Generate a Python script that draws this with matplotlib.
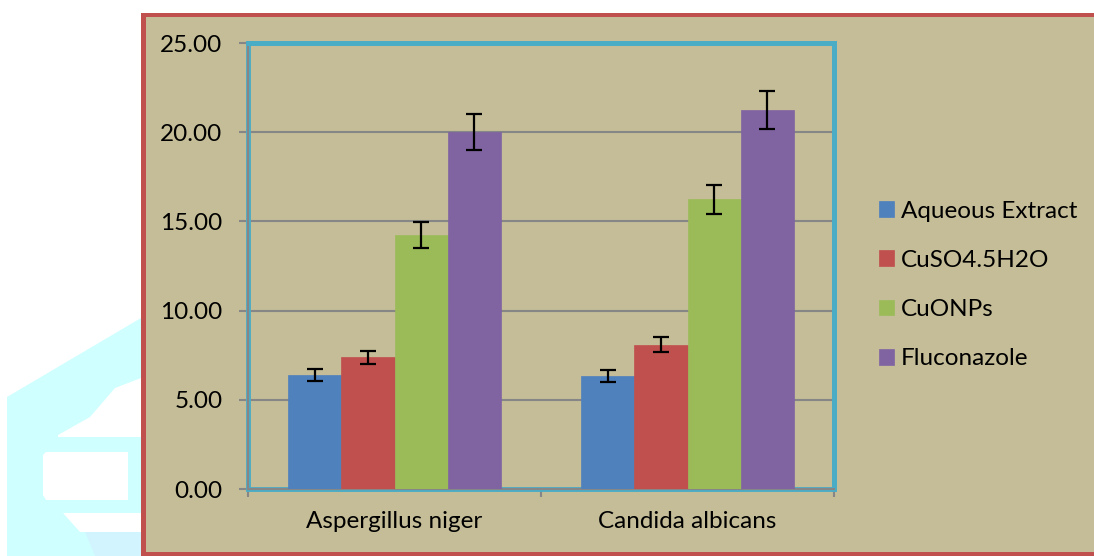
import matplotlib.pyplot as plt
import matplotlib.patches as mpatches
import numpy as np

plt.rcParams['font.family'] = ['Lato', 'DejaVu Sans']

# data
organisms = ['Aspergillus niger', 'Candida albicans']
series = ['Aqueous Extract', 'CuSO4.5H2O', 'CuONPs', 'Fluconazole']
values = {
    'Aqueous Extract': [6.39, 6.33],
    'CuSO4.5H2O': [7.38, 8.09],
    'CuONPs': [14.24, 16.24],
    'Fluconazole': [20.00, 21.23],
}
errors = {
    'Aqueous Extract': [0.34, 0.33],
    'CuSO4.5H2O': [0.38, 0.43],
    'CuONPs': [0.71, 0.81],
    'Fluconazole': [1.00, 1.07],
}
yticks = [0, 5, 10, 15, 20, 25]

colors = ['#4F81BD', '#C0504D', '#9BBB59', '#8064A2']
bg = '#C4BD97'
fs = 17.5
W, H = 1094, 556


def fx(px):
    return px / W


def fy(py):
    return 1 - py / H


def fig_rect(x0, y0, x1, y1, color, z):
    # rectangle given in pixel coords (y down), filled, no outline
    fig.patches.append(mpatches.Rectangle((fx(x0), fy(y1)), fx(x1) - fx(x0), fy(y0) - fy(y1),
                                          transform=fig.transFigure, fc=color, ec='none', zorder=z))


fig = plt.figure(figsize=(W / 100, H / 100), dpi=100)
fig.patch.set_facecolor('white')

# faint watermark on the left side (outside chart)
cyan = '#CFFFFF'
wm = [(7, 556), (7, 397), (141, 318), (141, 556)]
fig.patches.append(mpatches.Polygon([(fx(x), fy(y)) for x, y in wm], closed=True,
                                    transform=fig.transFigure, fc=cyan, ec='none', zorder=0))
holes = [
    [(141, 378), (115, 388), (90, 417), (58, 435), (58, 437), (141, 437)],
    [(43, 455), (46, 452), (128, 452), (128, 500), (46, 500), (43, 495)],
    [(63, 513), (141, 513), (141, 532), (80, 532)],
]
for h in holes:
    fig.patches.append(mpatches.Polygon([(fx(x), fy(y)) for x, y in h], closed=True,
                                        transform=fig.transFigure, fc='white', ec='none', zorder=0))
fig.patches.append(mpatches.Polygon([(fx(x), fy(y)) for x, y in [(95, 556), (141, 556), (141, 532), (85, 532)]],
                                    closed=True, transform=fig.transFigure, fc='#D2F4FF', ec='none', zorder=0))

# chart area with red frame (right edge runs off the picture)
fig_rect(143, 13, W, 556, bg, 1)
fig_rect(141, 13, W, 17, '#C0504D', 1.5)
fig_rect(141, 13, 146, 556, '#C0504D', 1.5)
fig_rect(141, 552, W, 556, '#C0504D', 1.5)

ax = fig.add_axes([fx(248), fy(489), fx(834) - fx(248), fy(43) - fy(489)])
ax.set_facecolor(bg)
ax.set_zorder(2)

x = np.arange(len(organisms))
n = len(series)
bw = 1 / (n + 1.5)
for i, s in enumerate(series):
    pos = x + (i - (n - 1) / 2) * bw
    ax.bar(pos, values[s], width=bw, color=colors[i], label=s, zorder=3,
           edgecolor=colors[i], linewidth=0.5)
    ax.errorbar(pos, values[s], yerr=errors[s], fmt='none', ecolor='black',
                elinewidth=1.6, capsize=6, capthick=1.6, zorder=4)

ax.set_xlim(-0.5, len(organisms) - 0.5)
ax.set_ylim(0, 25)
ax.set_yticks(yticks)
ax.set_yticklabels([f'{v:.2f}' for v in yticks], fontsize=fs)
ax.yaxis.grid(True, color='#868686', lw=1.5, zorder=1)
ax.set_axisbelow(True)

ax.set_xticks(x)
ax.set_xticklabels(organisms, fontsize=fs)
ax.tick_params(axis='x', length=0, pad=16)
ax.set_xticks([-0.5, 0.5, 1.5], minor=True)
ax.tick_params(axis='x', which='minor', length=6, width=1.5, color='#868686', direction='out')
ax.tick_params(axis='y', length=6.5, width=1.5, color='#868686', direction='out', pad=12)

for side in ['top', 'right']:
    ax.spines[side].set_color('#4BACC6')
    ax.spines[side].set_linewidth(3.5)
for side in ['left', 'bottom']:
    ax.spines[side].set_color('#868686')
    ax.spines[side].set_linewidth(1.5)
# cyan plot-area border just inside the grey axes
ax.add_patch(mpatches.Rectangle((0, 0), 1, 1, transform=ax.transAxes, fill=False,
                                ec='#4BACC6', lw=3.5, zorder=2.5, clip_on=False))

leg = fig.legend(loc='center left', bbox_to_anchor=(fx(857), fy(285)), frameon=False,
                 fontsize=fs, handlelength=0.62, handleheight=0.62, handletextpad=0.3,
                 labelspacing=1.16)

fig.savefig('out.png', dpi=100, facecolor=fig.get_facecolor())
